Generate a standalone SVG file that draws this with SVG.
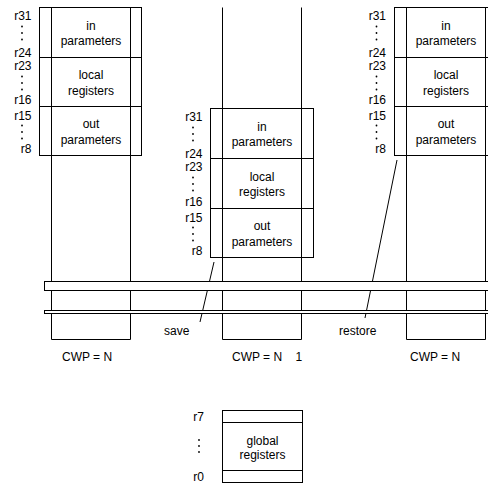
<svg xmlns="http://www.w3.org/2000/svg" width="488" height="485" viewBox="0 0 488 485">
<style>
text{font-family:"Liberation Sans",Arial,sans-serif;font-size:12px;fill:#000}
.c{text-anchor:middle}
.e{text-anchor:end}
.ln{stroke:#000;stroke-width:1;fill:none}
.bx{stroke:#000;stroke-width:1;fill:#fff}
.d{fill:#000}
</style>
<rect width="488" height="485" fill="#fff"/>
<g id="column-left">
<path class="ln" d="M51.5,7.5V339.5H130.5V7.5"/>
<rect class="bx" x="39.5" y="7.5" width="102" height="148"/>
<path class="ln" d="M39.5,57.5H141.5M39.5,106.5H141.5M51.5,7.5V155.5M130.5,7.5V155.5"/>
<text class="c" x="91" y="29.5">in</text><text class="c" x="91" y="45">parameters</text>
<text class="c" x="91" y="79">local</text><text class="c" x="91" y="94.5">registers</text>
<text class="c" x="91" y="128">out</text><text class="c" x="91" y="143.5">parameters</text>
<text class="e" x="31.5" y="20">r31</text><text class="e" x="31.5" y="56.5">r24</text>
<text class="e" x="31.5" y="70">r23</text><text class="e" x="31.5" y="104">r16</text>
<text class="e" x="31.5" y="120">r15</text><text class="e" x="31.5" y="153">r8</text>
<circle class="d" cx="22" cy="26.5" r="0.9"/><circle class="d" cx="22" cy="33" r="0.9"/><circle class="d" cx="22" cy="39.5" r="0.9"/>
<circle class="d" cx="22" cy="76.5" r="0.9"/><circle class="d" cx="22" cy="83" r="0.9"/><circle class="d" cx="22" cy="89.5" r="0.9"/>
<circle class="d" cx="22" cy="125.5" r="0.9"/><circle class="d" cx="22" cy="132" r="0.9"/><circle class="d" cx="22" cy="138.5" r="0.9"/>
<text x="62" y="361">CWP = N</text>
</g>
<g id="column-middle">
<path class="ln" d="M222.5,7.5V339.5H301.5V7.5"/>
<rect class="bx" x="210.5" y="108.5" width="103" height="149"/>
<path class="ln" d="M210.5,158.5H313.5M210.5,208.5H313.5M222.5,108.5V257.5M301.5,108.5V257.5"/>
<text class="c" x="262" y="130.5">in</text><text class="c" x="262" y="146">parameters</text>
<text class="c" x="262" y="180.5">local</text><text class="c" x="262" y="196">registers</text>
<text class="c" x="262" y="230">out</text><text class="c" x="262" y="245.5">parameters</text>
<text class="e" x="202.5" y="121">r31</text><text class="e" x="202.5" y="157.5">r24</text>
<text class="e" x="202.5" y="171">r23</text><text class="e" x="202.5" y="206">r16</text>
<text class="e" x="202.5" y="222">r15</text><text class="e" x="202.5" y="255">r8</text>
<circle class="d" cx="193" cy="127.5" r="0.9"/><circle class="d" cx="193" cy="134" r="0.9"/><circle class="d" cx="193" cy="140.5" r="0.9"/>
<circle class="d" cx="193" cy="177.5" r="0.9"/><circle class="d" cx="193" cy="184" r="0.9"/><circle class="d" cx="193" cy="190.5" r="0.9"/>
<circle class="d" cx="193" cy="227.5" r="0.9"/><circle class="d" cx="193" cy="234" r="0.9"/><circle class="d" cx="193" cy="240.5" r="0.9"/>
<text x="232" y="361" xml:space="preserve">CWP = N    1</text>
</g>
<g id="column-right">
<path class="ln" d="M406.5,7.5V339.5H485.5V7.5"/>
<rect class="bx" x="394.5" y="7.5" width="103" height="148"/>
<path class="ln" d="M394.5,57.5H497.5M394.5,106.5H497.5M406.5,7.5V155.5M485.5,7.5V155.5"/>
<text class="c" x="446" y="29.5">in</text><text class="c" x="446" y="45">parameters</text>
<text class="c" x="446" y="79">local</text><text class="c" x="446" y="94.5">registers</text>
<text class="c" x="446" y="128">out</text><text class="c" x="446" y="143.5">parameters</text>
<text class="e" x="386" y="20">r31</text><text class="e" x="386" y="56.5">r24</text>
<text class="e" x="386" y="70">r23</text><text class="e" x="386" y="104">r16</text>
<text class="e" x="386" y="120">r15</text><text class="e" x="386" y="153">r8</text>
<circle class="d" cx="376.5" cy="26.5" r="0.9"/><circle class="d" cx="376.5" cy="33" r="0.9"/><circle class="d" cx="376.5" cy="39.5" r="0.9"/>
<circle class="d" cx="376.5" cy="76.5" r="0.9"/><circle class="d" cx="376.5" cy="83" r="0.9"/><circle class="d" cx="376.5" cy="89.5" r="0.9"/>
<circle class="d" cx="376.5" cy="125.5" r="0.9"/><circle class="d" cx="376.5" cy="132" r="0.9"/><circle class="d" cx="376.5" cy="138.5" r="0.9"/>
<text x="410" y="361">CWP = N</text>
</g>
<g id="connectors">
<path class="ln" d="M214,262L200,322"/>
<path class="ln" d="M397,160L365,318"/>
</g>
<g id="bands">
<rect class="bx" x="44.5" y="281.5" width="450" height="9"/>
<rect class="bx" x="44.5" y="310.5" width="450" height="3"/>
</g>
<text id="save" x="164" y="335">save</text>
<text id="restore" x="339" y="335">restore</text>
<g id="global-registers">
<rect class="bx" x="222.5" y="410.5" width="80" height="72"/>
<path class="ln" d="M222.5,422.5H302.5M222.5,470.5H302.5"/>
<text class="c" x="262.5" y="445">global</text><text class="c" x="262.5" y="459">registers</text>
<text class="e" x="204" y="421">r7</text><text class="e" x="204" y="481">r0</text>
<circle class="d" cx="199" cy="440" r="0.9"/><circle class="d" cx="199" cy="446" r="0.9"/><circle class="d" cx="199" cy="452" r="0.9"/>
</g>
</svg>
